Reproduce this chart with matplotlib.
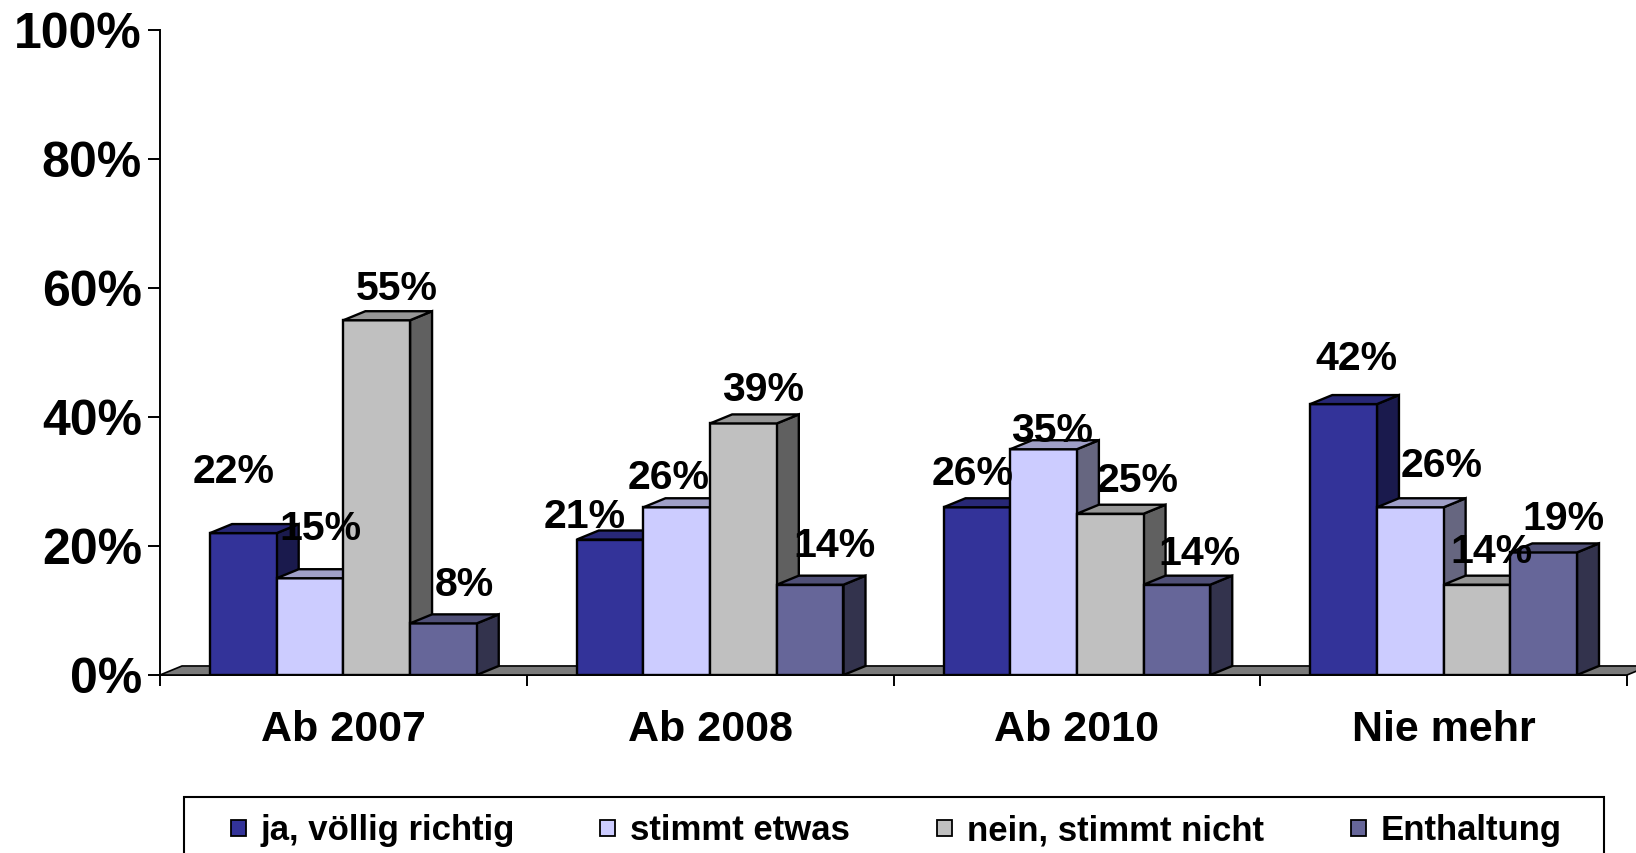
import matplotlib
matplotlib.use("Agg")
import matplotlib.pyplot as plt
import matplotlib.transforms as mtransforms
from matplotlib.colors import to_rgb
from matplotlib.patches import Polygon, Rectangle

# Daten
categories = ["Ab 2007", "Ab 2008", "Ab 2010", "Nie mehr"]
series_names = ["ja, völlig richtig", "stimmt etwas", "nein, stimmt nicht", "Enthaltung"]
ja_richtig = [22, 21, 26, 42]
stimmt_etwas = [15, 26, 35, 26]
stimmt_nicht = [55, 39, 25, 14]
enthaltung = [8, 14, 14, 19]
y_ticks = [0, 20, 40, 60, 80, 100]

series = [ja_richtig, stimmt_etwas, stimmt_nicht, enthaltung]
colors = ["#333399", "#CCCCFF", "#C0C0C0", "#666699"]

# Verschiebung der Beschriftungen (Pixel, rechts / nach oben), pro Kategorie und Serie
label_nudge = [
    [(-10, 65), (10, 53), (20, 35), (21, 42)],
    [(-25, 26), (-8, 33), (20, 37), (24, 42)],
    [(-4, 37), (9, 22), (27, 36), (23, 34)],
    [(13, 49), (31, 45), (15, 36), (20, 37)],
]

plt.rcParams["font.family"] = ["Liberation Sans", "DejaVu Sans"]
plt.rcParams["font.weight"] = "bold"

W, H = 1636, 853
fig = plt.figure(figsize=(W / 100, H / 100 + 0.0001), dpi=100)
ax = fig.add_axes([160 / W, (H - 675) / H, (1627 - 160) / W, (675 - 30) / H])
ax.set_xlim(0, len(categories))
ax.set_ylim(0, 100)


def shade(c, f):
    r, g, b = to_rgb(c)
    return (r * f, g * f, b * f)


bar_w = 1 / 5.5            # Abstandsbreite 150 %
start = (1 - 4 * bar_w) / 2
dx, dy = 0.06, 1.4         # Tiefe der 3D-Säulen
lw = 1.7

# Boden
floor = Polygon([(0, 0), (len(categories), 0), (len(categories) + dx, dy), (dx, dy)],
                closed=True, facecolor="#7a7a7a", edgecolor="black", lw=1.2,
                clip_on=False, zorder=1)
ax.add_patch(floor)

z = 2
for g in range(len(categories)):
    for s, vals in enumerate(series):
        h = vals[g]
        x0 = g + start + s * bar_w
        x1 = x0 + bar_w
        c = colors[s]
        side = Polygon([(x1, 0), (x1, h), (x1 + dx, h + dy), (x1 + dx, dy)], closed=True,
                       facecolor=shade(c, 0.5), edgecolor="black", lw=lw, zorder=z)
        front = Rectangle((x0, 0), bar_w, h, facecolor=c, edgecolor="black", lw=lw, zorder=z)
        top = Polygon([(x0, h), (x0 + dx, h + dy), (x1 + dx, h + dy), (x1, h)], closed=True,
                      facecolor=shade(c, 0.78), edgecolor="black", lw=lw, zorder=z)
        for p in (side, front, top):
            p.set_joinstyle("miter")
            ax.add_patch(p)
        z += 1

        nx, ny = label_nudge[g][s]
        ax.annotate(f"{h}%", xy=(x0 + bar_w / 2, h), xytext=(nx, ny - 14.5),
                    textcoords="offset pixels", ha="center", va="baseline",
                    fontsize=29.5, fontweight="bold", zorder=100)

# Achsen
for side_name in ("top", "right"):
    ax.spines[side_name].set_visible(False)
ax.spines["left"].set_linewidth(1.4)
ax.spines["bottom"].set_linewidth(1.4)
ax.spines["bottom"].set_zorder(0.5)

ax.set_xticks(range(len(categories) + 1))
ax.set_xticklabels([])
ax.tick_params(axis="x", direction="out", length=8, width=1.4)

ax.set_yticks(y_ticks)
ax.set_yticklabels([f"{t}%" for t in y_ticks])
ax.tick_params(axis="y", direction="out", length=8.6, width=1.4, pad=4.3, labelsize=36)
shift = mtransforms.ScaledTranslation(0, -0.18, fig.dpi_scale_trans)
for lab in ax.get_yticklabels():
    lab.set_fontweight("bold")
    lab.set_verticalalignment("baseline")
    lab.set_transform(lab.get_transform() + shift)

for g, cat in enumerate(categories):
    ax.text(g + 0.5, -10.3, cat, ha="center", va="baseline", fontsize=31, fontweight="bold")

# Legende (von Hand, wie im Original)
def px(x, y):
    return x / W, 1 - y / H

lx0, ly0 = px(184, 797)
lx1, ly1 = px(1604, 870)
fig.patches.append(Rectangle((lx0, ly1), lx1 - lx0, ly0 - ly1, transform=fig.transFigure,
                             facecolor="white", edgecolor="black", lw=1.5))
handle_x = [231, 600, 937, 1351]
for name, c, hx in zip(series_names, colors, handle_x):
    bx, by = px(hx, 836)
    fig.patches.append(Rectangle((bx, by), 15 / W, 16 / H, transform=fig.transFigure,
                                 facecolor=c, edgecolor="black", lw=1.3))
    tx, ty = px(hx + 30, 840)
    fig.text(tx, ty, name, ha="left", va="baseline", fontsize=25, fontweight="bold")

fig.savefig("out.png", dpi=100)
